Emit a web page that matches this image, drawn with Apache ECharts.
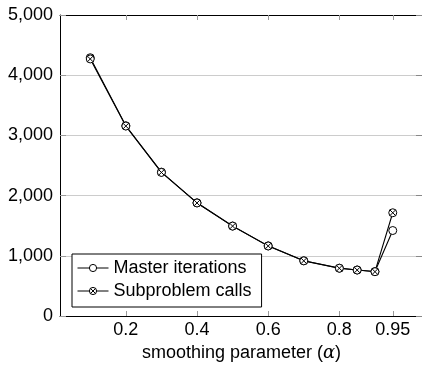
<!DOCTYPE html>
<html>
<head>
<meta charset="utf-8">
<script src="https://cdn.jsdelivr.net/npm/echarts@6/dist/echarts.min.js"></script>
<style>
html,body{margin:0;padding:0;background:#fff;overflow:hidden;}
#c{width:422px;height:368px;}
</style>
</head>
<body>
<div id="c"></div>
<script>
const alpha = [0.1, 0.2, 0.3, 0.4, 0.5, 0.6, 0.7, 0.8, 0.85, 0.9, 0.95];
const masterIterations = [4290, 3160, 2390, 1880, 1495, 1165, 918, 795, 765, 738, 1420];
const subproblemCalls = [4270, 3155, 2385, 1878, 1493, 1163, 916, 793, 763, 736, 1715];
const xTicks = [0.2, 0.4, 0.6, 0.8, 0.95];
const seriesNames = ['Master iterations', 'Subproblem calls'];

const FONT = '"Liberation Sans", Arial, Helvetica, sans-serif';
const otimes = 'path://M0,-10 A10,10 0 1,1 0,10 A10,10 0 1,1 0,-10 Z M-7.07,-7.07 L7.07,7.07 M-7.07,7.07 L7.07,-7.07';

const chart = echarts.init(document.getElementById('c'), null, {renderer: 'canvas'});
const tickStyle = {color: '#999', width: 1};
chart.setOption({
  animation: false,
  textStyle: {fontFamily: FONT},
  grid: {left: 60, top: 15, width: 363, height: 301, containLabel: false, outerBoundsMode: 'none'},
  legend: {
    orient: 'vertical',
    left: 72, top: 254,
    backgroundColor: '#fff',
    borderColor: '#000', borderWidth: 1, borderRadius: 0,
    padding: [5, 10, 7, 5],
    itemWidth: 31, itemHeight: 9, itemGap: 5,
    itemStyle: {borderWidth: 1},
    lineStyle: {width: 1},
    textStyle: {fontFamily: FONT, fontSize: 18, color: '#000', lineHeight: 18},
    data: seriesNames
  },
  xAxis: [{
    type: 'value', min: 0.015, max: 1.035, position: 'bottom',
    axisLine: {show: true, onZero: false, lineStyle: {color: '#000', width: 1}},
    axisTick: {show: true, inside: true, length: 5, customValues: xTicks, lineStyle: tickStyle},
    axisLabel: {show: true, customValues: xTicks, fontSize: 18, color: '#000', fontFamily: FONT, margin: 5,
      formatter: v => String(+v.toFixed(2))},
    splitLine: {show: false},
    name: 'smoothing parameter ({i|α})',
    nameLocation: 'middle', nameGap: 28,
    nameTextStyle: {fontSize: 18, color: '#000', fontFamily: FONT,
      rich: {i: {fontStyle: 'italic', fontSize: 18, fontFamily: '"DejaVu Serif", serif', color: '#000'}}}
  }, {
    type: 'value', min: 0.015, max: 1.035, position: 'top',
    axisLine: {show: true, onZero: false, lineStyle: {color: '#000', width: 1}},
    axisTick: {show: true, inside: true, length: 5, customValues: xTicks, lineStyle: tickStyle},
    axisLabel: {show: false},
    splitLine: {show: false}
  }],
  yAxis: [{
    type: 'value', min: 0, max: 5000, interval: 1000, position: 'left',
    axisLine: {show: true, onZero: false, lineStyle: {color: '#000', width: 1}},
    axisTick: {show: true, inside: true, length: 6, lineStyle: tickStyle},
    axisLabel: {fontSize: 18, color: '#000', fontFamily: FONT, margin: 7,
      formatter: v => v.toLocaleString('en-US')},
    splitLine: {show: true, lineStyle: {color: '#cccccc', width: 1}}
  }, {
    type: 'value', min: 0, max: 5000, interval: 1000, position: 'right',
    axisLine: {show: true, onZero: false, lineStyle: {color: '#000', width: 1}},
    axisTick: {show: true, inside: true, length: 7, lineStyle: {color: '#888', width: 1}},
    axisLabel: {show: false},
    splitLine: {show: false}
  }],
  series: [{
    name: seriesNames[0], type: 'line',
    data: alpha.map((a, i) => [a, masterIterations[i]]),
    symbol: 'circle', symbolSize: 8, showAllSymbol: true,
    lineStyle: {color: '#000', width: 1.1},
    itemStyle: {color: '#fff', borderColor: '#000', borderWidth: 1}
  }, {
    name: seriesNames[1], type: 'line',
    data: alpha.map((a, i) => [a, subproblemCalls[i]]),
    symbol: otimes, symbolSize: 8, showAllSymbol: true,
    lineStyle: {color: '#000', width: 1.1},
    itemStyle: {color: '#fff', borderColor: '#000', borderWidth: 1}
  }]
});
</script>
</body>
</html>
